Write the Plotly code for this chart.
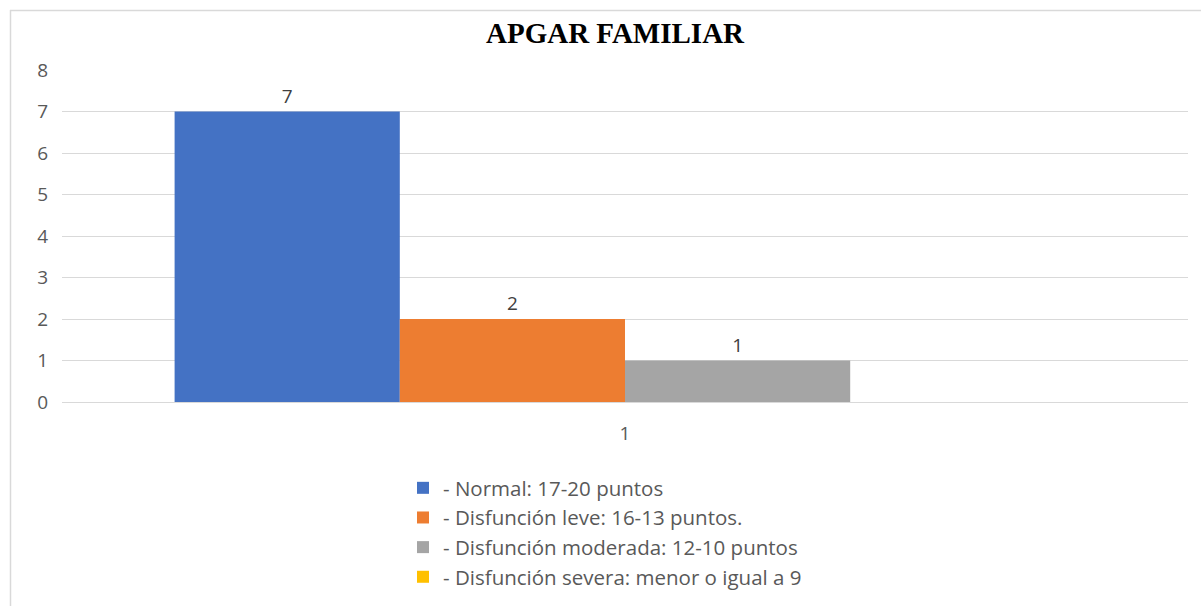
import plotly.graph_objects as go

categories = ["1"]
series_names = [
    "- Normal: 17-20 puntos",
    "- Disfunción leve: 16-13 puntos.",
    "- Disfunción moderada: 12-10 puntos",
    "- Disfunción severa: menor o igual a 9",
]
series_values = [7, 2, 1, 0]
series_colors = ["#4472C4", "#ED7D31", "#A5A5A5", "#FFC000"]
y_ticks = [0, 1, 2, 3, 4, 5, 6, 7, 8]

W, H = 1201, 606
L, R, T, B = 62, 13, 70, 204
pw, ph = W - L - R, H - T - B
FONT = "Open Sans, Noto Sans, sans-serif"
FS = 19

fig = go.Figure()
for i, (name, val, col) in enumerate(zip(series_names, series_values, series_colors)):
    fig.add_trace(go.Bar(
        x=categories, y=[val], name=name, legendgroup=f"g{i}",
        marker=dict(color=col, line=dict(width=0)),
        text=[str(val) if val != 0 else ""],
        textposition="outside",
        textfont=dict(family=FONT, size=FS, color="#404040"),
        cliponaxis=False,
    ))

def px_to_paper_x(px):
    return (px - L) / pw

def px_to_paper_y(py):
    return (H - B - py) / ph

fig.update_layout(
    width=W, height=H,
    margin=dict(l=L, r=R, t=T, b=B, autoexpand=False),
    paper_bgcolor="white", plot_bgcolor="white",
    barmode="group", bargap=0.2, bargroupgap=0,
    title=dict(text="<b>APGAR FAMILIAR</b>", x=px_to_paper_x(615), xref="paper", xanchor="center",
               y=1 - 33 / H, yanchor="middle",
               font=dict(family="Liberation Serif, Times New Roman, serif", size=29, color="#000000")),
    xaxis=dict(type="category", showgrid=False, showline=False, ticks="",
               ticklabelstandoff=18,
               tickfont=dict(family=FONT, size=FS, color="#595959")),
    yaxis=dict(range=[0, 8], tickvals=y_ticks, showgrid=True, gridcolor="#D9D9D9", gridwidth=1,
               zeroline=True, zerolinecolor="#D9D9D9", zerolinewidth=1, showline=False, ticks="",
               ticklabelstandoff=13,
               tickfont=dict(family=FONT, size=FS, color="#595959")),
    legend=dict(orientation="v", x=px_to_paper_x(403), y=px_to_paper_y(468), xanchor="left", yanchor="top",
                font=dict(family=FONT, size=20.5, color="#595959"),
                itemwidth=30, tracegroupgap=0, bgcolor="rgba(0,0,0,0)"),
    showlegend=True,
    shapes=[
        dict(type="line", xref="paper", yref="paper",
             x0=px_to_paper_x(10), x1=px_to_paper_x(W), y0=px_to_paper_y(10.5), y1=px_to_paper_y(10.5),
             line=dict(color="#D9D9D9", width=1.5)),
        dict(type="line", xref="paper", yref="paper",
             x0=px_to_paper_x(10.5), x1=px_to_paper_x(10.5), y0=px_to_paper_y(10), y1=px_to_paper_y(H),
             line=dict(color="#D9D9D9", width=1.5)),
    ],
)

fig.write_html("out.html", config={"displayModeBar": False},
               post_script="document.body.style.margin='0';")
